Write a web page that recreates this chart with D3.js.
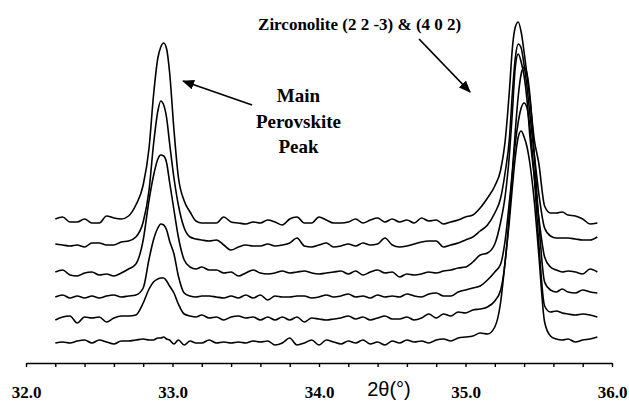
<!DOCTYPE html>
<html>
<head>
<meta charset="utf-8">
<script src="https://cdn.jsdelivr.net/npm/d3@7"></script>
<style>
  body { margin: 0; background: #fff; }
  svg { display: block; }
</style>
</head>
<body>
<svg id="chart" width="629" height="401"></svg>
<script>
// 2theta sample positions (denser around the two peaks)
var twoTheta = [
  32.20, 32.25, 32.30, 32.35, 32.40, 32.45, 32.50, 32.55, 32.60, 32.65, 32.70, 32.75,
  32.80, 32.84, 32.87, 32.90, 32.92, 32.94, 32.96, 32.98, 33.01, 33.04, 33.08, 33.12, 33.16,
  33.20, 33.25, 33.30, 33.35, 33.40, 33.45, 33.50, 33.55, 33.60, 33.65,
  33.70, 33.75, 33.80, 33.85, 33.90, 33.95, 34.00, 34.05, 34.10, 34.15,
  34.20, 34.25, 34.30, 34.35, 34.40, 34.45, 34.50, 34.55, 34.60, 34.65,
  34.70, 34.75, 34.80, 34.85, 34.90, 34.95, 35.00,
  35.05, 35.10, 35.15, 35.20, 35.24, 35.27, 35.30, 35.32, 35.34, 35.36,
  35.38, 35.40, 35.42, 35.44, 35.47, 35.50, 35.54, 35.58, 35.62,
  35.66, 35.70, 35.75, 35.80, 35.85, 35.90
];

// vertical stacking offset of each pattern (top to bottom), a.u.
var offsets = [122, 99, 70, 46, 24, 0];

// intensities (a.u.), top to bottom
var scan1 = [
  1, 3, -2, -2, 1, -3, -3, 4, 2, 1, 4, 15,
  35, 72, 124, 162, 173, 177, 171, 148, 90, 43, 19, 8, -1,
  -3, -3, -3, 3, -2, -3, -4, -2, -3, 0,
  -2, -5, 1, 3, -3, -3, 3, 0, -3, -3,
  -2, 1, -3, 0, 2, -2, 1, -2, 0, -3,
  2, -1, 0, -4, -2, 0, 3,
  5, 12, 22, 34, 50, 78, 130, 172, 193, 198,
  188, 168, 145, 120, 80, 57, 14, 7, 7,
  8, 5, 4, 1, -4, -3
];
var scan2 = [
  -1, -2, -3, -2, -4, 0, 0, -2, -2, 1, 2, 6,
  21, 53, 98, 132, 142, 138, 125, 100, 65, 38, 15, 6, 4,
  3, 2, 3, -2, -7, -4, -2, -3, -3, -1,
  -3, -2, 0, 5, -3, -4, -2, 0, -4, -3,
  -1, -3, 0, -2, -1, 5, -2, -4, -3, -1,
  1, 2, 2, -4, -2, 0, 3,
  6, 12, 18, 30, 45, 70, 105, 150, 185, 199,
  195, 178, 156, 128, 88, 50, 15, 7, 5,
  5, 5, 4, 3, 3, 6
];
var scan3 = [
  0, 2, -3, -4, -1, 0, -3, -2, -4, -1, 3, 8,
  32, 72, 96, 113, 117, 116, 109, 90, 62, 35, 12, 5, 3,
  5, 2, 2, -1, 0, -4, -1, 2, -1, -2,
  -1, 1, -1, 0, 1, -1, -2, -1, 0, 1,
  -2, 1, -3, 0, 2, -1, 0, -5, -2, -3,
  -2, 0, -1, 1, 2, 4, 5,
  10, 17, 19, 28, 50, 75, 118, 160, 205, 218,
  210, 196, 172, 135, 95, 55, 15, 5, 2,
  0, 1, 0, -2, 3, 0
];
var scan4 = [
  -1, 1, -2, 0, -2, 0, -2, 0, 1, -1, 0, 1,
  8, 37, 56, 68, 72, 71, 66, 55, 42, 20, 3, 0, -1,
  0, 0, -1, -2, 0, -2, 1, -2, 1, -4,
  0, -1, -1, 0, 0, -2, -1, 1, -1, 0,
  2, -1, 0, -2, 1, -1, 0, -1, 2, 0,
  -1, 2, 3, 0, 0, 4, 6,
  8, 10, 16, 24, 32, 55, 95, 125, 165, 200,
  222, 229, 222, 200, 140, 75, 14, 6, 4,
  7, 4, 3, 6, 4, 3
];
var scan5 = [
  -2, 1, 2, -5, 1, 0, 1, -4, 0, 2, 2, 3,
  15, 29, 36, 39, 40, 40, 37, 32, 25, 14, 4, 2, 1,
  3, 0, 1, -2, 1, 2, 0, 1, -2, 1,
  -2, 1, -2, 1, -4, 0, -1, -2, -1, 0,
  2, -1, 1, -2, 0, 2, -1, -1, 1, -2,
  0, 4, 0, 4, 2, 6, 5,
  8, 9, 11, 17, 28, 55, 105, 145, 175, 196,
  210, 215, 210, 190, 140, 75, 12, 6, 7,
  5, 4, 3, 4, 3, 1
];
var scan6 = [
  -1, 0, -1, 1, 2, -1, 2, 0, -2, 1, 1, 2,
  3, 2, 2, 4, 4, 5, 3, 2, -2, 2, -3, 1, -1,
  -1, 2, -1, 0, -1, 0, -1, 1, 0, 1,
  -3, -1, 4, -3, -1, 2, -3, 2, 0, -2,
  1, -1, 2, -2, 0, -3, 1, -1, 2, 0,
  1, -1, 2, 3, 1, 4, 5,
  6, 9, 8, 15, 40, 80, 122, 155, 185, 205,
  211, 205, 195, 178, 140, 88, 20, 6, 3,
  2, 3, 0, 2, 3, 5
];
var scans = [scan1, scan2, scan3, scan4, scan5, scan6];

var majorTicks = [32, 33, 34, 35, 36];
var minorStep = 0.2;

var svg = d3.select("#chart");

var x = d3.scaleLinear().domain([32, 36]).range([26, 612]);
var y = d3.scaleLinear().domain([0, 340]).range([342, 2]);

var serif = "'Liberation Serif', 'Times New Roman', serif";

// patterns
var line = d3.line()
    .x(d => x(d[0]))
    .y(d => y(d[1]))
    .curve(d3.curveMonotoneX);

scans.forEach((s, i) => {
    var pts = twoTheta.map((t, j) => [t, offsets[i] + s[j]]);
    svg.append("path")
        .attr("d", line(pts))
        .attr("fill", "none")
        .attr("stroke", "#000")
        .attr("stroke-width", 1.6)
        .attr("stroke-linejoin", "round");
});

// x axis
var minorTicks = d3.range(32, 36 + 1e-6, minorStep);
var xAxis = d3.axisBottom(x)
    .tickValues(minorTicks)
    .tickSizeInner(4)
    .tickSizeOuter(0)
    .tickPadding(19)
    .tickFormat(d => majorTicks.some(m => Math.abs(m - d) < 1e-6) ? d3.format(".1f")(d) : "");

var gx = svg.append("g")
    .attr("transform", "translate(0,363)")
    .call(xAxis);
gx.select(".domain").attr("stroke-width", 1.6);
gx.selectAll(".tick line").attr("stroke-width", 1.4);
gx.selectAll(".tick text")
    .attr("font-family", serif)
    .attr("font-weight", "bold")
    .attr("font-size", 17)
    .attr("fill", "#000");

svg.append("text")
    .attr("x", 389)
    .attr("y", 396)
    .attr("text-anchor", "middle")
    .attr("font-family", "'Liberation Sans', Arial, sans-serif")
    .attr("font-size", 20)
    .text("2θ(°)");

// arrow marker
svg.append("defs").append("marker")
    .attr("id", "arrow")
    .attr("viewBox", "0 0 12 10")
    .attr("refX", 11)
    .attr("refY", 5)
    .attr("markerWidth", 12)
    .attr("markerHeight", 10)
    .attr("markerUnits", "userSpaceOnUse")
    .attr("orient", "auto")
  .append("path")
    .attr("d", "M0,0L12,5L0,10z")
    .attr("fill", "#000");

// annotations (positioned in data units)
var perovLabel = ["Main", "Perovskite", "Peak"];
svg.append("g").selectAll("text")
    .data(perovLabel)
    .join("text")
    .attr("x", x(33.86))
    .attr("y", (d, i) => y(240) + i * 25.5)
    .attr("text-anchor", "middle")
    .attr("font-family", serif)
    .attr("font-weight", "bold")
    .attr("font-size", 19)
    .text(d => d);

svg.append("line")
    .attr("x1", x(33.543)).attr("y1", y(237))
    .attr("x2", x(33.072)).attr("y2", y(261))
    .attr("stroke", "#000")
    .attr("stroke-width", 1.8)
    .attr("marker-end", "url(#arrow)");

svg.append("text")
    .attr("x", x(33.584))
    .attr("y", y(312))
    .attr("font-family", serif)
    .attr("font-weight", "bold")
    .attr("font-size", 17)
    .text("Zirconolite (2 2 -3) & (4 0 2)");

svg.append("line")
    .attr("x1", x(34.683)).attr("y1", y(303))
    .attr("x2", x(35.031)).attr("y2", y(250))
    .attr("stroke", "#000")
    .attr("stroke-width", 1.8)
    .attr("marker-end", "url(#arrow)");
</script>
</body>
</html>
